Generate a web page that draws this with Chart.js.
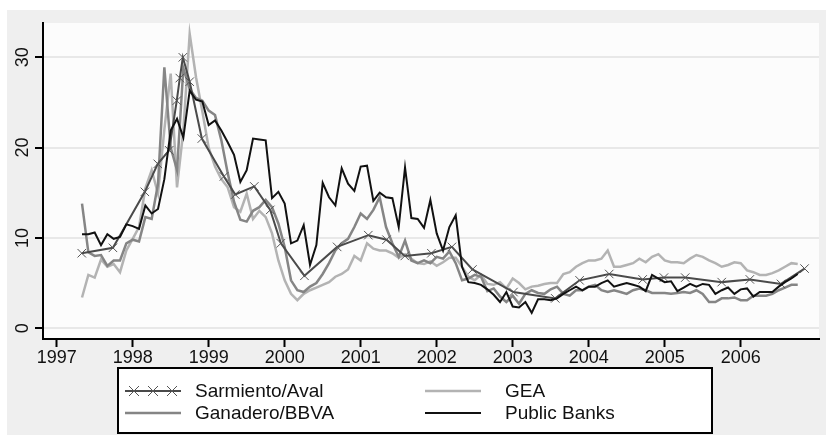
<!DOCTYPE html>
<html>
<head>
<meta charset="utf-8">
<script src="https://cdn.jsdelivr.net/npm/chart.js@4.4.0/dist/chart.umd.min.js"></script>
<style>
  html, body { margin: 0; padding: 0; background: #fff; }
</style>
</head>
<body>
<canvas id="chart" width="826" height="435"></canvas>
<script>
// monthly observations, May 1997 .. Oct 2006 (decimal years)
const months = Array.from({ length: 114 }, (_, i) => 1997 + (4 + i) / 12);
const yearTicks = [1997, 1998, 1999, 2000, 2001, 2002, 2003, 2004, 2005, 2006];
const valueTicks = [0, 10, 20, 30];

const publicBanks = [
  10.4, 10.4, 10.6, 9.2, 10.4, 9.9, 10.1, 11.5,
  11.3, 11.0, 13.6, 12.7, 13.2, 16.5, 21.9, 23.2, 21.1, 26.3, 25.3, 25.1,
  22.5, 23.0, 21.9, 20.6, 19.2, 16.2, 17.5, 21.0, 20.9, 20.8, 14.4, 15.1,
  13.8, 9.4, 9.7, 11.4, 7.0, 9.2, 16.1, 14.5, 13.6, 17.7, 16.0, 15.2,
  17.9, 18.0, 14.1, 15.0, 14.5, 14.4, 11.2, 17.8, 12.2, 12.1, 11.1, 14.2,
  10.5, 8.6, 11.2, 12.5, 6.8, 5.1, 5.0, 4.8, 4.3, 3.7, 2.9, 4.0,
  2.4, 2.3, 2.9, 1.7, 3.2, 3.2, 3.1, 3.3, 3.8, 4.2, 4.6, 4.2,
  4.6, 4.6, 5.0, 5.3, 4.6, 4.8, 5.0, 4.8, 4.6, 4.1, 5.9, 5.5,
  5.1, 5.2, 4.1, 4.5, 4.9, 4.6, 4.9, 4.8, 3.8, 4.2, 4.5, 3.8,
  4.3, 4.4, 3.5, 4.0, 4.0, 4.0, 4.6, 5.1, 5.5, 6.0
];

const gea = [
  3.4, 5.9, 5.6, 7.6, 6.8, 7.1, 6.2, 8.6,
  9.9, 11.2, 15.5, 17.5, 14.9, 22.0, 28.2, 15.6, 21.9, 32.6, 27.8, 24.0,
  20.0, 17.9, 16.5, 15.6, 13.4, 12.9, 14.9, 12.1, 13.0, 12.3, 10.5, 7.5,
  5.3, 3.8, 3.1, 3.8, 4.2, 4.5, 4.8, 5.1, 5.7, 6.0, 6.5, 8.0,
  7.5, 9.4, 8.8, 8.6, 8.6, 8.3, 7.8, 8.2, 7.7, 7.2, 7.1, 7.4,
  6.9, 7.3, 7.8, 7.8, 6.8, 5.7, 5.3, 5.9, 4.9, 4.8, 5.1, 4.4,
  5.5, 5.0, 4.3, 4.6, 4.7, 4.9, 5.0, 5.0, 6.0, 6.2, 6.8, 7.2,
  7.5, 7.5, 7.7, 8.6, 6.8, 6.8, 7.0, 7.2, 7.7, 7.3, 7.9, 8.2,
  7.5, 7.3, 7.3, 7.2, 7.7, 8.1, 7.9, 7.5, 7.2, 6.8, 7.0, 7.3,
  7.2, 6.4, 6.2, 5.9, 5.9, 6.1, 6.4, 6.8, 7.2, 7.1
];

const ganadero = [
  13.8, 8.4, 8.0, 8.1, 6.9, 7.5, 7.5, 9.4,
  9.8, 9.6, 12.3, 12.1, 16.0, 28.9, 20.0, 17.5, 28.8, 26.5, 25.5, 25.2,
  24.1, 23.6, 20.8, 17.2, 14.0, 12.0, 11.8, 13.0, 13.4, 14.2, 13.4, 11.6,
  9.0, 5.3, 4.2, 4.0, 4.6, 5.0, 6.0, 7.2, 8.6, 9.4, 9.9, 11.2,
  12.7, 12.1, 13.1, 14.5, 11.2, 9.4, 7.9, 9.7, 7.5, 7.2, 7.5, 7.2,
  7.9, 7.7, 8.5, 7.2, 5.3, 5.5, 5.9, 5.7, 4.1, 4.4, 3.5, 2.9,
  3.6, 2.7, 3.8, 4.2, 3.9, 3.8, 4.3, 4.6, 3.8, 3.6, 4.2, 4.2,
  4.6, 4.8, 4.2, 4.0, 4.2, 4.0, 3.8, 4.2, 4.4, 4.2, 3.9, 3.9,
  3.9, 3.8, 3.9, 4.0, 3.9, 4.2, 3.8, 2.9, 2.9, 3.3, 3.3, 3.4,
  3.1, 3.1, 3.6, 3.6, 3.6, 3.8, 4.2, 4.5, 4.8, 4.8
];

// Sarmiento/Aval is observed on irregular dates
const sarmientoDates = [
  1997.33, 1997.74, 1998.16, 1998.33, 1998.48, 1998.58, 1998.62, 1998.66, 1998.75, 1998.91,
  1999.20, 1999.35, 1999.60, 1999.81, 1999.95, 2000.26, 2000.69, 2001.10, 2001.34, 2001.58,
  2001.93, 2002.20, 2002.47, 2003.01, 2003.56, 2003.88, 2004.27, 2004.71, 2004.99, 2005.27,
  2005.75, 2006.12, 2006.53, 2006.84
];
const sarmientoValues = [
  8.3, 8.9, 15.1, 18.2, 19.7, 25.2, 27.7, 30.0, 27.3, 21.0,
  16.8, 14.8, 15.7, 13.1, 9.4, 5.8, 9.0, 10.3, 9.8, 8.0,
  8.3, 9.0, 6.5, 4.0, 3.3, 5.3, 6.0, 5.4, 5.6, 5.6,
  5.1, 5.4, 4.9, 6.6
];

const seriesNames = ['Sarmiento/Aval', 'Ganadero/BBVA', 'GEA', 'Public Banks'];

const FONT = "'Liberation Sans', Arial, sans-serif";

function monthly(values) {
    return values.map((v, i) => ({ x: months[i], y: v }));
}

const frame = {
    id: 'frame',
    beforeDraw(chart) {
        const { ctx, chartArea: a } = chart;
        ctx.save();
        ctx.fillStyle = '#ffffff';
        ctx.fillRect(0, 0, chart.width, chart.height);
        ctx.fillStyle = '#efefef';
        ctx.fillRect(7, 10, chart.width - 7, chart.height - 10);
        ctx.fillStyle = '#fcfcfc';
        ctx.fillRect(a.left, a.top, a.right - a.left, a.bottom - a.top);
        ctx.restore();
    },
    afterDraw(chart) {
        const ctx = chart.ctx;
        const yScale = chart.scales.y;
        ctx.save();
        // rotated y labels, Stata style
        ctx.fillStyle = '#111';
        ctx.font = '18px ' + FONT;
        ctx.textAlign = 'center';
        ctx.textBaseline = 'middle';
        valueTicks.forEach(v => {
            ctx.save();
            ctx.translate(22, yScale.getPixelForValue(v));
            ctx.rotate(-Math.PI / 2);
            ctx.fillText(String(v), 0, 1);
            ctx.restore();
        });

        // legend box
        const box = { left: 118, top: 368, right: 712, bottom: 433 };
        ctx.fillStyle = '#ffffff';
        ctx.fillRect(box.left, box.top, box.right - box.left, box.bottom - box.top);
        ctx.strokeStyle = '#000';
        ctx.lineWidth = 2;
        ctx.strokeRect(box.left, box.top, box.right - box.left, box.bottom - box.top);

        const cols = [125, 425];
        const rows = [391, 413];
        ctx.font = '19px ' + FONT;
        ctx.textAlign = 'left';
        chart.data.datasets.forEach((ds, i) => {
            const x0 = cols[Math.floor(i / 2)];
            const y = rows[i % 2];
            ctx.strokeStyle = ds.borderColor;
            ctx.lineWidth = ds.borderWidth;
            ctx.beginPath();
            ctx.moveTo(x0, y);
            ctx.lineTo(x0 + 56, y);
            ctx.stroke();
            if (ds.pointStyle === 'crossRot') {
                ctx.strokeStyle = ds.pointBorderColor;
                ctx.lineWidth = 1;
                [x0 + 9, x0 + 28, x0 + 47].forEach(px => {
                    ctx.beginPath();
                    ctx.moveTo(px - 5, y - 5); ctx.lineTo(px + 5, y + 5);
                    ctx.moveTo(px - 5, y + 5); ctx.lineTo(px + 5, y - 5);
                    ctx.stroke();
                });
            }
            ctx.fillStyle = '#111';
            ctx.fillText(ds.label, x0 + 70 + (i >= 2 ? 10 : 0), y + 1);
        });
        ctx.restore();
    }
};

new Chart(document.getElementById('chart'), {
    type: 'line',
    data: {
        datasets: [
            {
                label: seriesNames[0],
                data: sarmientoDates.map((d, i) => ({ x: d, y: sarmientoValues[i] })),
                borderColor: '#4a4a4a',
                borderWidth: 2,
                pointStyle: 'crossRot',
                pointRadius: 6,
                pointBorderColor: '#555',
                pointBorderWidth: 1,
                order: 1
            },
            {
                label: seriesNames[1],
                data: monthly(ganadero),
                borderColor: '#858585',
                borderWidth: 2.5,
                pointRadius: 0,
                order: 2
            },
            {
                label: seriesNames[2],
                data: monthly(gea),
                borderColor: '#b3b3b3',
                borderWidth: 2.5,
                pointRadius: 0,
                order: 3
            },
            {
                label: seriesNames[3],
                data: monthly(publicBanks),
                borderColor: '#111111',
                borderWidth: 2,
                pointRadius: 0,
                order: 0
            }
        ]
    },
    options: {
        responsive: false,
        animation: false,
        devicePixelRatio: 1,
        layout: { padding: { left: 0, top: 23, right: 0, bottom: 66 } },
        elements: { line: { tension: 0, fill: false } },
        plugins: { legend: { display: false }, tooltip: { enabled: false } },
        scales: {
            x: {
                type: 'linear',
                min: 1996.82,
                max: 2007.03,
                afterBuildTicks: s => { s.ticks = yearTicks.map(v => ({ value: v })); },
                afterFit: s => { s.height = 30; },
                border: { display: true, color: '#000', width: 2 },
                grid: { drawOnChartArea: false, tickColor: '#000', tickWidth: 2, tickLength: 8 },
                ticks: {
                    color: '#111',
                    font: { family: FONT, size: 18 },
                    padding: 0,
                    maxRotation: 0,
                    autoSkip: false,
                    callback: v => String(v)
                }
            },
            y: {
                min: -1.2,
                max: 33.8,
                afterBuildTicks: s => { s.ticks = valueTicks.map(v => ({ value: v })); },
                afterFit: s => { s.width = 43; },
                border: { display: true, color: '#000', width: 2 },
                grid: { color: '#e8e8e8', lineWidth: 2, tickColor: '#000', tickWidth: 2, tickLength: 8 },
                ticks: { display: false }
            }
        }
    },
    plugins: [frame]
});
</script>
</body>
</html>
